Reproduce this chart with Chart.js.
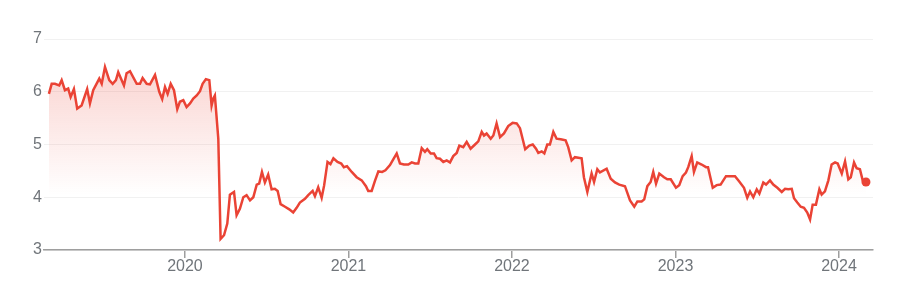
<!DOCTYPE html>
<html>
<head>
<meta charset="utf-8">
<script src="https://cdn.jsdelivr.net/npm/chart.js@4.4.0/dist/chart.umd.min.js"></script>
<style>
  body { margin: 0; background: #fff; }
  #wrap { width: 903px; height: 300px; position: relative; }
</style>
</head>
<body>
<div id="wrap"><canvas id="priceChart"></canvas></div>
<script>
// dates as fractional years
const dates = [
  2019.168, 2019.185, 2019.205, 2019.231, 2019.246, 2019.266, 2019.286, 2019.301, 2019.321, 2019.341,
  2019.368, 2019.402, 2019.419, 2019.439, 2019.476, 2019.491, 2019.511, 2019.537, 2019.558, 2019.578,
  2019.592, 2019.627, 2019.643, 2019.664, 2019.705, 2019.725, 2019.741, 2019.766, 2019.786, 2019.817,
  2019.843, 2019.861, 2019.878, 2019.894, 2019.913, 2019.933, 2019.953, 2019.969, 2019.990, 2020.010,
  2020.031, 2020.051, 2020.072, 2020.092, 2020.108, 2020.128, 2020.149, 2020.163, 2020.173, 2020.183,
  2020.204, 2020.218, 2020.239, 2020.259, 2020.275, 2020.300, 2020.316, 2020.336, 2020.357, 2020.377,
  2020.398, 2020.418, 2020.439, 2020.454, 2020.471, 2020.489, 2020.509, 2020.530, 2020.550, 2020.567,
  2020.585, 2020.612, 2020.638, 2020.662, 2020.683, 2020.703, 2020.734, 2020.754, 2020.781, 2020.795,
  2020.815, 2020.836, 2020.851, 2020.872, 2020.890, 2020.908, 2020.933, 2020.956, 2020.972, 2020.991,
  2021.020, 2021.050, 2021.081, 2021.107, 2021.121, 2021.142, 2021.162, 2021.183, 2021.206, 2021.226,
  2021.254, 2021.274, 2021.295, 2021.315, 2021.339, 2021.366, 2021.387, 2021.407, 2021.427, 2021.448,
  2021.468, 2021.482, 2021.503, 2021.523, 2021.539, 2021.560, 2021.580, 2021.601, 2021.621, 2021.641,
  2021.662, 2021.678, 2021.702, 2021.723, 2021.747, 2021.774, 2021.794, 2021.815, 2021.829, 2021.845,
  2021.870, 2021.886, 2021.906, 2021.927, 2021.951, 2021.977, 2022.004, 2022.029, 2022.049, 2022.065,
  2022.081, 2022.106, 2022.127, 2022.147, 2022.161, 2022.182, 2022.198, 2022.216, 2022.232, 2022.253,
  2022.273, 2022.298, 2022.328, 2022.344, 2022.365, 2022.385, 2022.426, 2022.440, 2022.461, 2022.487,
  2022.502, 2022.522, 2022.538, 2022.579, 2022.604, 2022.630, 2022.656, 2022.691, 2022.722, 2022.748,
  2022.767, 2022.793, 2022.809, 2022.828, 2022.848, 2022.864, 2022.881, 2022.901, 2022.930, 2022.950,
  2022.971, 2023.003, 2023.023, 2023.044, 2023.064, 2023.078, 2023.099, 2023.113, 2023.133, 2023.160,
  2023.187, 2023.199, 2023.228, 2023.252, 2023.276, 2023.309, 2023.333, 2023.364, 2023.390, 2023.419,
  2023.439, 2023.456, 2023.476, 2023.497, 2023.513, 2023.537, 2023.554, 2023.578, 2023.598, 2023.623,
  2023.650, 2023.670, 2023.690, 2023.711, 2023.725, 2023.745, 2023.766, 2023.786, 2023.806, 2023.823,
  2023.839, 2023.859, 2023.880, 2023.894, 2023.914, 2023.935, 2023.955, 2023.976, 2023.992, 2024.017,
  2024.037, 2024.057, 2024.072, 2024.092, 2024.108, 2024.128, 2024.145, 2024.165
];

const prices = [
  5.96, 6.15, 6.15, 6.12, 6.22, 6.03, 6.06, 5.90, 6.05, 5.68,
  5.74, 6.05, 5.78, 6.03, 6.25, 6.15, 6.47, 6.22, 6.15, 6.22,
  6.37, 6.12, 6.35, 6.39, 6.15, 6.15, 6.26, 6.15, 6.14, 6.32,
  6.00, 5.86, 6.09, 5.96, 6.15, 6.03, 5.67, 5.81, 5.84, 5.71,
  5.78, 5.87, 5.93, 6.01, 6.15, 6.24, 6.22, 5.74, 5.87, 5.93,
  5.11, 3.21, 3.28, 3.50, 4.05, 4.10, 3.66, 3.78, 4.00, 4.04,
  3.94, 4.00, 4.24, 4.26, 4.48, 4.28, 4.43, 4.15, 4.16, 4.12,
  3.87, 3.82, 3.77, 3.71, 3.80, 3.90, 3.97, 4.04, 4.12, 4.02,
  4.19, 3.99, 4.22, 4.67, 4.63, 4.74, 4.67, 4.64, 4.57, 4.59,
  4.48, 4.38, 4.32, 4.21, 4.12, 4.12, 4.31, 4.49, 4.48, 4.51,
  4.61, 4.72, 4.83, 4.64, 4.62, 4.62, 4.66, 4.64, 4.64, 4.93,
  4.86, 4.91, 4.83, 4.83, 4.74, 4.73, 4.67, 4.70, 4.66, 4.78,
  4.84, 4.98, 4.95, 5.05, 4.92, 5.00, 5.06, 5.24, 5.17, 5.21,
  5.11, 5.17, 5.40, 5.14, 5.21, 5.35, 5.41, 5.40, 5.31, 5.11,
  4.91, 4.98, 5.00, 4.92, 4.84, 4.87, 4.83, 5.00, 5.00, 5.24,
  5.11, 5.10, 5.08, 4.95, 4.70, 4.76, 4.74, 4.38, 4.10, 4.45,
  4.29, 4.53, 4.47, 4.54, 4.35, 4.28, 4.24, 4.21, 3.94, 3.82,
  3.92, 3.92, 3.96, 4.21, 4.29, 4.48, 4.26, 4.45, 4.38, 4.34,
  4.34, 4.18, 4.23, 4.40, 4.47, 4.57, 4.78, 4.48, 4.66, 4.62,
  4.57, 4.57, 4.18, 4.23, 4.24, 4.40, 4.40, 4.40, 4.30, 4.18,
  3.99, 4.11, 4.00, 4.15, 4.07, 4.28, 4.24, 4.32, 4.24, 4.18,
  4.10, 4.16, 4.15, 4.16, 3.98, 3.90, 3.82, 3.80, 3.71, 3.58,
  3.86, 3.86, 4.15, 4.05, 4.11, 4.32, 4.62, 4.66, 4.64, 4.45,
  4.68, 4.34, 4.38, 4.66, 4.55, 4.53, 4.32, 4.29
];

const yearTicks = [2020, 2021, 2022, 2023, 2024];
const priceTicks = [3, 4, 5, 6, 7];

const red = '#ea4335';

const points = dates.map((d, i) => ({ x: d, y: prices[i] }));
const lastIndex = points.length - 1;

const ctx = document.getElementById('priceChart').getContext('2d');
new Chart(ctx, {
  type: 'line',
  data: {
    datasets: [{
      data: points,
      borderColor: red,
      borderWidth: 2.5,
      tension: 0,
      fill: 'start',
      backgroundColor: (context) => {
        const area = context.chart.chartArea;
        if (!area) return 'rgba(234,67,53,0.15)';
        const g = context.chart.ctx.createLinearGradient(0, 60, 0, 195);
        g.addColorStop(0, 'rgba(234,67,53,0.24)');
        g.addColorStop(1, 'rgba(234,67,53,0)');
        return g;
      },
      pointRadius: (c) => c.dataIndex === lastIndex ? 4.5 : 0,
      pointBackgroundColor: red,
      pointBorderWidth: 0,
      pointHoverRadius: 0
    }]
  },
  options: {
    responsive: true,
    maintainAspectRatio: false,
    animation: false,
    layout: { padding: { left: 0, right: 30, top: 39, bottom: 0 } },
    plugins: {
      legend: { display: false },
      tooltip: { enabled: false }
    },
    scales: {
      x: {
        type: 'linear',
        min: 2019.138,
        max: 2024.208,
        afterBuildTicks: (scale) => { scale.ticks = yearTicks.map(v => ({ value: v })); },
        afterFit: (scale) => { scale.height = 50; },
        border: { display: true, color: '#9e9e9e', width: 1.5 },
        grid: { drawOnChartArea: false, drawTicks: true, tickLength: 8, color: '#9e9e9e', lineWidth: 1.5 },
        ticks: {
          autoSkip: false,
          maxRotation: 0,
          padding: -1,
          color: '#70757a',
          font: { family: 'Arial, "Liberation Sans", sans-serif', size: 16 },
          callback: (v) => String(v)
        }
      },
      y: {
        min: 3,
        max: 7,
        afterBuildTicks: (scale) => { scale.ticks = priceTicks.map(v => ({ value: v })); },
        afterFit: (scale) => { scale.width = 44; },
        border: { display: false },
        grid: { color: '#f1f1f1', lineWidth: 1, drawTicks: false },
        ticks: {
          padding: 2,
          color: '#70757a',
          font: { family: 'Arial, "Liberation Sans", sans-serif', size: 16 }
        }
      }
    }
  }
});
</script>
</body>
</html>
